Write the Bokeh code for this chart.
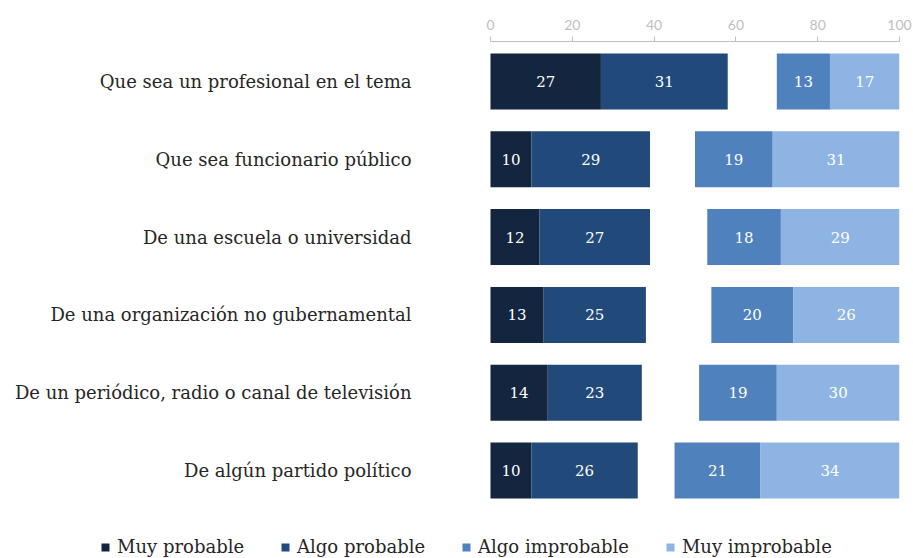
from bokeh.plotting import figure
from bokeh.models import (Range1d, ColumnDataSource, FixedTicker,
                          Legend, LegendItem)
from bokeh.core.properties import value
from bokeh.embed import file_html
from bokeh.resources import INLINE

categories = [
    "Que sea un profesional en el tema",
    "Que sea funcionario público",
    "De una escuela o universidad",
    "De una organización no gubernamental",
    "De un periódico, radio o canal de televisión",
    "De algún partido político",
]
muy_probable = [27, 10, 12, 13, 14, 10]
algo_probable = [31, 29, 27, 25, 23, 26]
algo_improbable = [13, 19, 18, 20, 19, 21]
muy_improbable = [17, 31, 29, 26, 30, 34]
series_names = ["Muy probable", "Algo probable", "Algo improbable", "Muy improbable"]
colors = ["#13253f", "#214a7b", "#4f81bd", "#8db4e2"]
x_ticks = [0, 20, 40, 60, 80, 100]

SERIF = "DejaVu Serif"

pos = list(range(len(categories)))  # row index, top to bottom

# segment extents
s1 = [0] * 6
e1 = list(muy_probable)
s2 = e1
e2 = [a + b for a, b in zip(muy_probable, algo_probable)]
e4 = [100] * 6
s4 = [100 - m for m in muy_improbable]
e3 = s4
s3 = [100 - a - m for a, m in zip(algo_improbable, muy_improbable)]
segs = [(s1, e1, muy_probable), (s2, e2, algo_probable),
        (s3, e3, algo_improbable), (s4, e4, muy_improbable)]

p = figure(frame_width=899, frame_height=517,
           x_range=Range1d(-119.8, 100),
           y_range=Range1d(6.131, -0.514),
           x_axis_location="above", y_axis_location=None,
           output_backend="svg", toolbar_location=None,
           min_border_left=0, min_border_right=14,
           min_border_top=41, min_border_bottom=0)

p.outline_line_color = None
p.xgrid.grid_line_color = None
p.ygrid.grid_line_color = None
p.background_fill_color = "white"
p.border_fill_color = "white"

items = []
for (s, e, vals), name, col in zip(segs, series_names, colors):
    src = ColumnDataSource(dict(y=pos, left=s, right=e,
                                mid=[(a + b) / 2 for a, b in zip(s, e)],
                                lab=[str(v) for v in vals]))
    r = p.hbar(y="y", left="left", right="right", height=0.72, source=src,
               fill_color=col, line_color=None)
    p.text(x="mid", y="y", text="lab", source=src, text_color="white",
           text_align="center", text_baseline="middle",
           text_font=value(SERIF), text_font_size="15px")
    items.append(LegendItem(label=name, renderers=[r]))

# category labels
cat_src = ColumnDataSource(dict(x=[0] * len(categories), y=pos, t=categories))
p.text(x="x", y="y", text="t", source=cat_src, x_offset=-79,
       text_align="right", text_baseline="middle", text_color="#262626",
       text_font=value(SERIF), text_font_size="18px")

xa = p.xaxis[0]
xa.ticker = FixedTicker(ticks=x_ticks)
xa.bounds = (0, 100)
xa.major_tick_out = 5
xa.major_tick_in = 0
xa.minor_tick_line_color = None
xa.axis_line_color = "#bfbfbf"
xa.major_tick_line_color = "#bfbfbf"
xa.major_label_text_color = "#bfbfbf"
xa.major_label_text_font = "Lato"
xa.major_label_text_font_size = "14px"
xa.major_label_standoff = 7

legend = Legend(items=items, orientation="horizontal", location=(100, 1),
                padding=0, margin=0, spacing=36, border_line_color=None,
                background_fill_alpha=0, glyph_width=10, glyph_height=10,
                label_standoff=7, label_text_font=SERIF,
                label_text_font_size="18px", label_text_color="#262626",
                label_height=20)
p.add_layout(legend, "center")

open("out.html", "w").write(file_html(p, INLINE))
